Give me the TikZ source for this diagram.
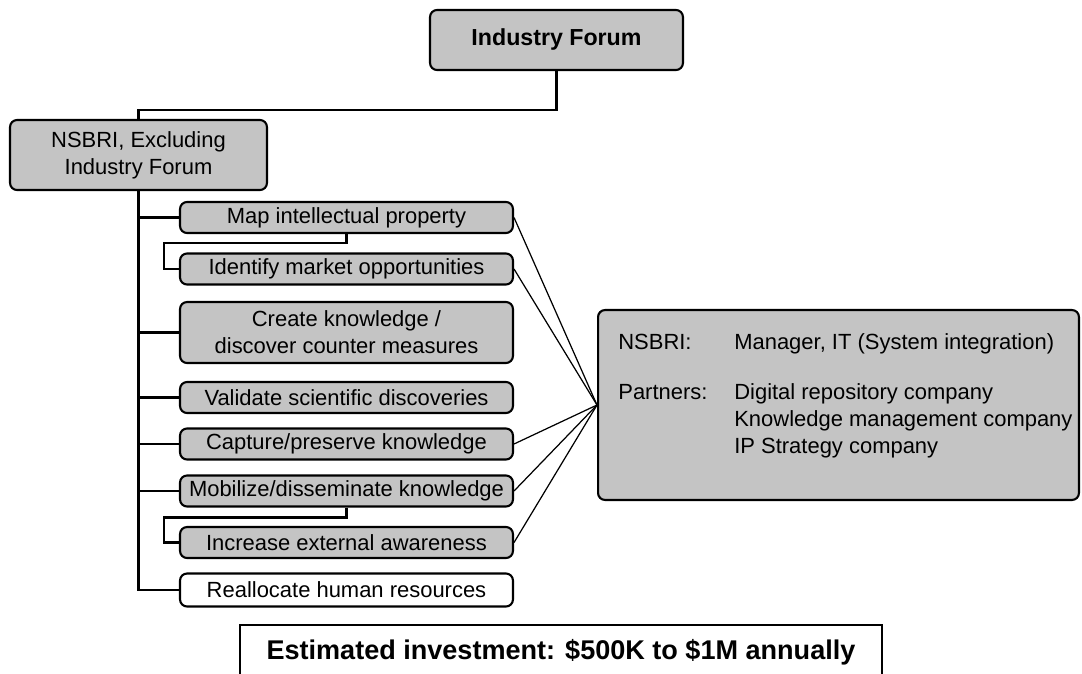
\documentclass[tikz,border=0pt]{standalone}
\usepackage{fontspec}
\setmainfont{Liberation Sans}
\usetikzlibrary{positioning}
\definecolor{boxgray}{RGB}{196,196,196}
\newcommand{\boxfont}{\fontsize{12.5}{15.5}\selectfont}

\begin{document}
\begin{tikzpicture}[x=0.02cm,y=-0.02cm,
  taskbox/.style={draw,very thick,rounded corners=4pt,fill=boxgray,inner sep=0pt,minimum width=6.66cm,minimum height=0.62cm,font=\boxfont,align=center},
  tree/.style={line width=1.6pt},
  link/.style={line width=0.7pt}]
\useasboundingbox (0,0) rectangle (1082,673);
% organisation
\node[taskbox,minimum width=5.06cm,minimum height=1.2cm,font=\fontsize{13.2}{15.5}\selectfont\bfseries] (forum) at (556.5,40) {Industry Forum};
\node[taskbox,minimum width=5.14cm,minimum height=1.4cm] (nsbri) at (138.5,155) {NSBRI, Excluding\\Industry Forum};
% tasks
\node[taskbox] (mapip) at (346.5,217.5) {Map intellectual property};
\node[taskbox] (idmkt) at (346.5,269) {Identify market opportunities};
\node[taskbox,minimum height=1.22cm] (create) at (346.5,332.5) {Create knowledge /\\discover counter measures};
\node[taskbox] (validate) at (346.5,397.5) {Validate scientific discoveries};
\node[taskbox] (capture) at (346.5,444) {Capture/preserve knowledge};
\node[taskbox] (mobilize) at (346.5,491) {Mobilize/disseminate knowledge};
\node[taskbox] (awareness) at (346.5,542.5) {Increase external awareness};
\node[taskbox,fill=white,minimum height=0.66cm] (realloc) at (346.5,590) {Reallocate human resources};
% team
\node[taskbox,minimum width=9.62cm,minimum height=3.8cm] (team) at (838.5,405) {};
\node[anchor=north west,inner sep=0pt,font=\boxfont] (staff) at (618,330) {\begin{tabular}{@{}p{2.32cm}@{}l@{}}
NSBRI: & Manager, IT (System integration)\\[13pt]
Partners: & Digital repository company\\
 & Knowledge management company\\
 & IP Strategy company
\end{tabular}};
% connectors
\draw[tree] (forum.south) -- ++(0,39) -| (nsbri.north);
\foreach \t in {mapip,create,validate,capture,mobilize,realloc}
  \draw[tree] (nsbri.south) |- (\t.west);
\draw[tree] (mapip.south) -- ++(0,9) -| ([xshift=-0.3cm]idmkt.west) -- (idmkt.west);
\draw[tree] (mobilize.south) -- ++(0,10) -| ([xshift=-0.3cm]awareness.west) -- (awareness.west);
\foreach \t in {mapip,idmkt,capture,mobilize,awareness}
  \draw[link] (\t.east) -- (team.west);
% investment
\node[draw,line width=1.6pt,minimum width=12.84cm,minimum height=1.08cm,font=\fontsize{15.4}{18}\selectfont\bfseries] (invest) at (561,652) {Estimated investment: \$500K to \$1M annually};
\end{tikzpicture}
\end{document}
